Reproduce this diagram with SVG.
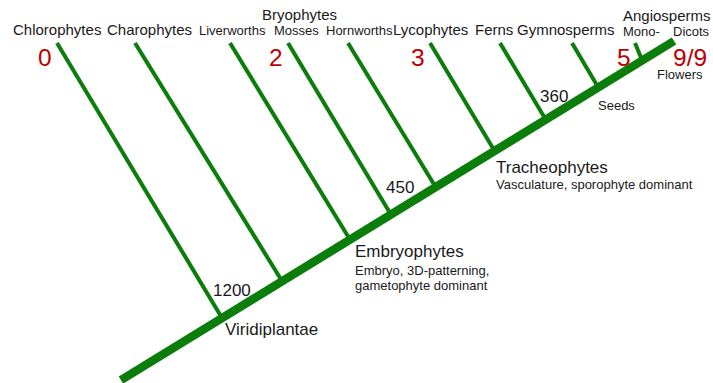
<svg xmlns="http://www.w3.org/2000/svg" width="713" height="383" viewBox="0 0 713 383">
<style>
text{font-family:"Liberation Sans",Arial,Helvetica,sans-serif;fill:#1a1a1a}
.t15{font-size:15px}
.t13{font-size:13px}
.t17{font-size:17px}
.num{font-size:24.5px;fill:#c00000}
.trunk{stroke:#0a7d0a;stroke-width:8.5;fill:none}
.br{stroke:#0a7d0a;stroke-width:4;fill:none}
</style>
<rect width="713" height="383" fill="#ffffff"/>
<g id="connectors">
<line class="trunk" x1="121" y1="380" x2="674" y2="41"/>
<line class="br" x1="57" y1="43" x2="222" y2="318"/>
<line class="br" x1="135" y1="43" x2="282" y2="281"/>
<line class="br" x1="230" y1="43" x2="349" y2="238"/>
<line class="br" x1="288" y1="43" x2="390" y2="213"/>
<line class="br" x1="348" y1="43" x2="435" y2="186"/>
<line class="br" x1="430" y1="43" x2="494" y2="150"/>
<line class="br" x1="500" y1="43" x2="546" y2="120"/>
<line class="br" x1="572" y1="43" x2="598" y2="87"/>
<line class="br" x1="635" y1="43" x2="642" y2="60"/>
</g>
<g id="chlorophytes"><text class="t15" x="13" y="35">Chlorophytes</text><text class="num" x="38" y="66">0</text></g>
<g id="charophytes"><text class="t15" x="107" y="35">Charophytes</text></g>
<g id="bryophytes"><text class="t15" x="262" y="20">Bryophytes</text><text class="num" x="269" y="66">2</text></g>
<g id="liverworths"><text class="t13" x="199" y="35">Liverworths</text></g>
<g id="mosses"><text class="t13" x="274" y="35">Mosses</text></g>
<g id="hornworths"><text class="t13" x="326" y="35">Hornworths</text></g>
<g id="lycophytes"><text class="t15" x="393" y="35">Lycophytes</text><text class="num" x="411" y="66">3</text></g>
<g id="ferns"><text class="t15" x="475" y="35">Ferns</text></g>
<g id="gymnosperms"><text class="t15" x="517" y="35">Gymnosperms</text><text class="num" x="617" y="66">5</text></g>
<g id="angiosperms"><text class="t15" x="623" y="21">Angiosperms</text><text class="t13" x="623" y="36">Mono-</text><text class="t13" x="673" y="36">Dicots</text><text class="num" x="673" y="66">9/9</text><text class="t13" x="657" y="79">Flowers</text></g>
<g id="seeds"><text class="t13" x="598" y="110">Seeds</text><text class="t17" x="540" y="102">360</text></g>
<g id="tracheophytes"><text class="t17" x="496" y="173">Tracheophytes</text><text class="t13" x="496" y="189">Vasculature, sporophyte dominant</text><text class="t17" x="386" y="193">450</text></g>
<g id="embryophytes"><text class="t17" x="355" y="257">Embryophytes</text><text class="t13" x="355" y="275">Embryo, 3D-patterning,</text><text class="t13" x="355" y="290">gametophyte dominant</text></g>
<g id="viridiplantae"><text class="t17" x="225" y="335">Viridiplantae</text><text class="t17" x="213" y="296">1200</text></g>
</svg>
